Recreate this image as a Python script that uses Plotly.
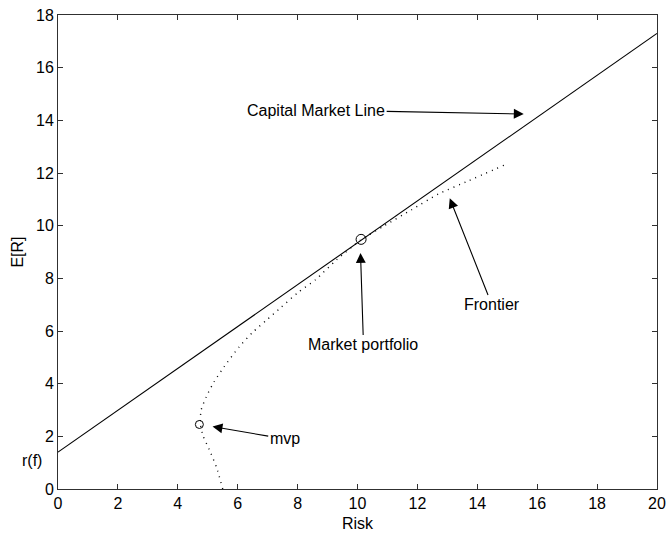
import plotly.graph_objects as go

# Capital market line: risk-free rate at zero risk, out to the right edge
cml_risk = [0.0, 20.0]
cml_return = [1.4, 17.3]

# Efficient frontier (dotted) from bottom to top
frontier_risk = [5.5, 5.3, 5.05, 4.85, 4.75, 4.78, 4.95, 5.2, 5.55, 6.05, 6.5,
                 6.95, 7.45, 8.0, 8.6, 9.3, 10.1, 10.9, 11.8, 12.7, 13.7, 14.9]
frontier_return = [0.0, 0.8, 1.5, 2.0, 2.5, 3.0, 3.5, 4.05, 4.65, 5.4, 5.95,
                   6.4, 6.9, 7.45, 7.95, 8.7, 9.45, 10.0, 10.6, 11.2, 11.7, 12.3]

# Highlighted portfolios
mvp_point = (4.72, 2.45)
market_point = (10.12, 9.48)

x_ticks = list(range(0, 21, 2))
y_ticks = list(range(0, 19, 2))

FONT = "Liberation Sans, Arial, sans-serif"
AX_COLOR = "#303030"

fig = go.Figure()

fig.add_trace(go.Scatter(x=cml_risk, y=cml_return, mode="lines",
                         line=dict(color="black", width=1.1),
                         showlegend=False, hoverinfo="skip"))

fig.add_trace(go.Scatter(x=frontier_risk, y=frontier_return, mode="lines",
                         line=dict(color="black", width=1.4, dash="1px,5px",
                                   shape="spline", smoothing=0.6),
                         showlegend=False, hoverinfo="skip"))

fig.add_trace(go.Scatter(x=[mvp_point[0]], y=[mvp_point[1]], mode="markers",
                         marker=dict(symbol="circle-open", size=8,
                                     color="black", line=dict(width=1)),
                         showlegend=False, hoverinfo="skip"))
fig.add_trace(go.Scatter(x=[market_point[0]], y=[market_point[1]], mode="markers",
                         marker=dict(symbol="circle-open", size=10,
                                     color="black", line=dict(width=1)),
                         showlegend=False, hoverinfo="skip"))

arrow_kw = dict(showarrow=True, arrowhead=2, arrowsize=1.8, arrowwidth=1.1,
                arrowcolor="black", axref="x", ayref="y", xref="x", yref="y",
                standoff=0, startstandoff=0,
                font=dict(family=FONT, size=16, color="black"))

fig.add_annotation(text="Capital Market Line", x=15.55, y=14.24,
                   ax=8.62, ay=14.39, **arrow_kw)
fig.add_annotation(text="Market portfolio", x=10.1, y=8.96,
                   ax=10.2, ay=5.47, **arrow_kw)
fig.add_annotation(text="Frontier", x=13.08, y=11.04,
                   ax=14.49, ay=6.99, **arrow_kw)
fig.add_annotation(text="mvp", x=5.16, y=2.37,
                   ax=7.57, ay=1.9, **arrow_kw)

# Risk-free rate label beside the y axis
fig.add_annotation(text="r(f)", xref="paper", yref="y", x=0, y=1.1,
                   xanchor="right", xshift=-14, showarrow=False,
                   font=dict(family=FONT, size=16, color="black"))

axis_common = dict(showgrid=False, zeroline=False, showline=True,
                   linecolor=AX_COLOR, linewidth=1, mirror="ticks",
                   ticks="inside", ticklen=5, tickcolor=AX_COLOR, tickwidth=1,
                   ticklabeloverflow="allow", automargin=False,
                   tickfont=dict(family=FONT, size=16, color="black"))

fig.update_xaxes(range=[0, 20], tickvals=x_ticks, ticktext=[str(v) for v in x_ticks],
                 title=dict(text="Risk", font=dict(family=FONT, size=16, color="black"),
                            standoff=6),
                 **axis_common)
fig.update_yaxes(range=[0, 18], tickvals=y_ticks, ticktext=[str(v) for v in y_ticks],
                 title=dict(text="E[R]", font=dict(family=FONT, size=16, color="black"),
                            standoff=8),
                 **axis_common)

fig.update_layout(width=666, height=536,
                  margin=dict(l=58, r=9, t=15, b=47),
                  paper_bgcolor="white", plot_bgcolor="white",
                  showlegend=False)

fig.write_html("out.html")
